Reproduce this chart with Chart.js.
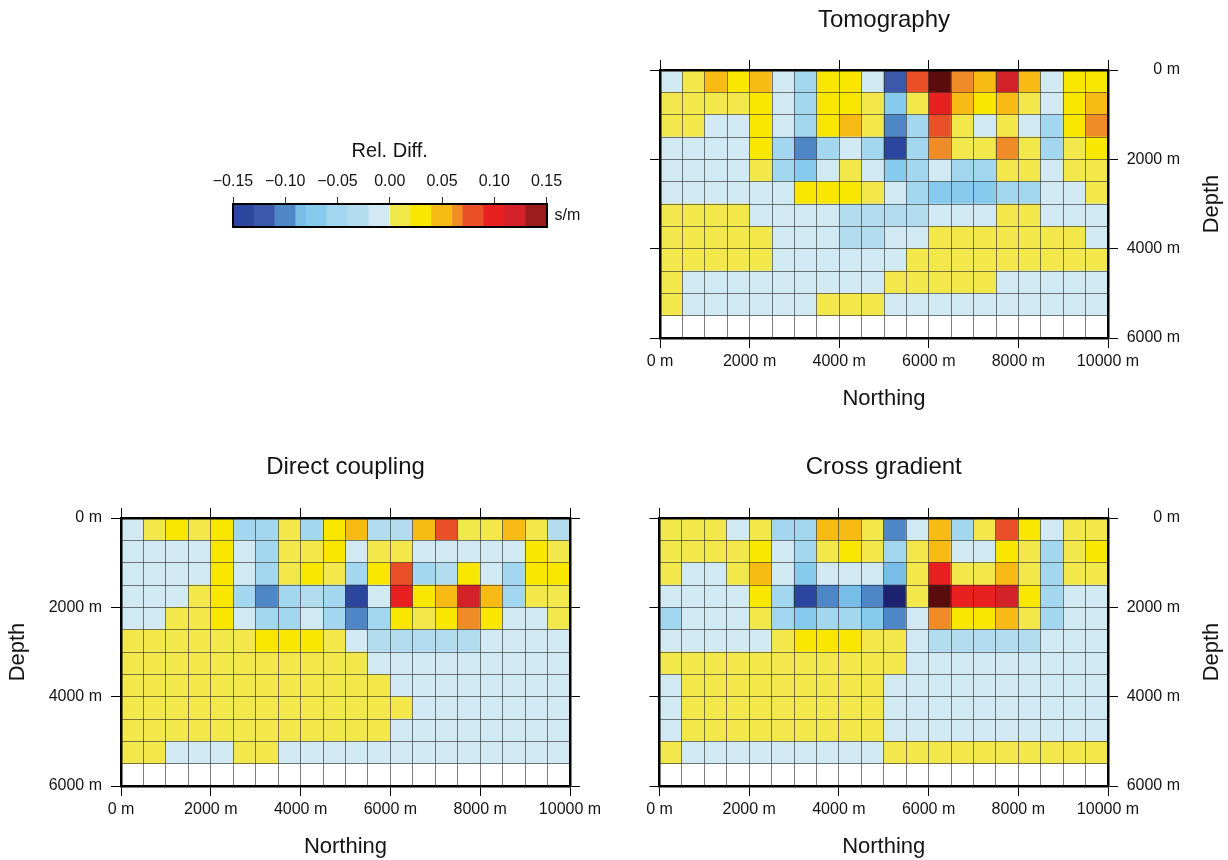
<!DOCTYPE html>
<html><head><meta charset="utf-8">
<script src="https://cdn.jsdelivr.net/npm/chart.js@4.4.1/dist/chart.umd.min.js"></script>
<style>
html,body{margin:0;padding:0;background:#fff;width:1228px;height:860px;overflow:hidden;}
.box{position:absolute;}
</style></head><body>
<div class="box" style="left:150px;top:120px;width:470px;height:130px"><canvas id="cb"></canvas></div>
<div class="box" style="left:600px;top:0px;width:628px;height:420px"><canvas id="tomo"></canvas></div>
<div class="box" style="left:0px;top:430px;width:600px;height:430px"><canvas id="direct"></canvas></div>
<div class="box" style="left:600px;top:430px;width:628px;height:430px"><canvas id="cross"></canvas></div>
<script>
// ---------- data ----------
const northingEdges = [0,500,1000,1500,2000,2500,3000,3500,4000,4500,5000,5500,6000,6500,7000,7500,8000,8500,9000,9500,10000];
const depthEdges = [0,500,1000,1500,2000,2500,3000,3500,4000,4500,5000,5500,6000];
const northingTicks = [0,2000,4000,6000,8000,10000];
const depthTicks = [0,2000,4000,6000];
const cbTicks = [-0.15,-0.10,-0.05,0,0.05,0.10,0.15];
const cbEdges = [-0.15,-0.13,-0.11,-0.09,-0.08,-0.06,-0.04,-0.02,0,0.02,0.04,0.06,0.07,0.09,0.11,0.13,0.15];
const cbColors = ['#2c46a0','#3b58aa','#4f86c6','#78bde8','#86caee','#a3d6ef','#b3dcef','#d0e9f3',
                  '#f2e84c','#f9e700','#f8ba14','#f08c28','#ea5028','#e8201f','#d32129','#9a1c1c'];
const underColor = '#1c2270';
const overColor = '#5c0c0c';

// relative difference (s/m), rows = depth cells from top, cols = northing cells
const tomography = [
 [-0.01,0.01,0.05,0.03,0.05,-0.01,-0.05,0.03,0.03,-0.01,-0.12,0.08,0.16,0.065,0.05,0.12,0.05,-0.01,0.03,0.03],
 [0.01,0.01,0.01,0.01,0.03,-0.01,-0.05,0.03,0.03,0.01,-0.07,0.01,0.10,0.05,0.03,0.05,0.01,-0.01,0.03,0.05],
 [0.01,0.01,-0.01,-0.01,0.03,-0.01,-0.05,0.03,0.05,0.01,-0.10,-0.05,0.08,0.01,-0.01,0.01,-0.01,-0.05,0.03,0.065],
 [-0.01,-0.01,-0.01,-0.01,0.03,-0.05,-0.10,-0.05,-0.01,-0.05,-0.14,-0.05,0.065,0.01,0.01,0.065,0.01,-0.05,0.01,0.03],
 [-0.01,-0.01,-0.01,-0.01,0.01,-0.05,-0.07,-0.01,0.01,-0.01,-0.07,-0.05,-0.01,-0.05,-0.05,0.01,0.01,-0.01,0.01,0.01],
 [-0.01,-0.01,-0.01,-0.01,-0.01,-0.01,0.03,0.03,0.03,0.01,-0.01,-0.05,-0.07,-0.07,-0.07,-0.05,-0.05,-0.01,-0.01,0.01],
 [0.01,0.01,0.01,0.01,-0.01,-0.01,-0.01,-0.01,-0.03,-0.03,-0.03,-0.03,-0.01,-0.01,-0.01,0.01,0.01,-0.01,-0.01,-0.01],
 [0.01,0.01,0.01,0.01,0.01,-0.01,-0.01,-0.01,-0.03,-0.03,-0.01,-0.01,0.01,0.01,0.01,0.01,0.01,0.01,0.01,-0.01],
 [0.01,0.01,0.01,0.01,0.01,-0.01,-0.01,-0.01,-0.01,-0.01,-0.01,0.01,0.01,0.01,0.01,0.01,0.01,0.01,0.01,0.01],
 [0.01,-0.01,-0.01,-0.01,-0.01,-0.01,-0.01,-0.01,-0.01,-0.01,0.01,0.01,0.01,0.01,0.01,-0.01,-0.01,-0.01,-0.01,-0.01],
 [0.01,-0.01,-0.01,-0.01,-0.01,-0.01,-0.01,0.01,0.01,0.01,-0.01,-0.01,-0.01,-0.01,-0.01,-0.01,-0.01,-0.01,-0.01,-0.01]
];
const directCoupling = [
 [-0.01,0.01,0.03,0.01,0.03,-0.05,-0.05,0.01,-0.05,0.03,0.05,-0.03,-0.03,0.05,0.08,0.01,0.01,0.05,0.01,-0.03],
 [-0.01,-0.01,-0.01,-0.01,0.03,-0.01,-0.05,0.01,0.01,0.03,-0.01,0.01,0.01,-0.01,-0.01,-0.01,-0.01,-0.01,0.03,0.01],
 [-0.01,-0.01,-0.01,-0.01,0.03,-0.01,-0.05,0.01,0.03,0.01,-0.05,0.03,0.08,-0.05,-0.03,0.03,-0.01,-0.05,0.03,0.03],
 [-0.01,-0.01,-0.01,0.01,0.03,-0.05,-0.10,-0.05,-0.03,-0.05,-0.14,-0.01,0.10,0.03,0.05,0.12,0.05,-0.05,0.01,0.01],
 [-0.01,-0.01,0.01,0.01,0.03,-0.01,-0.05,-0.05,-0.01,-0.05,-0.10,-0.05,0.03,0.01,0.03,0.065,0.03,-0.01,-0.01,0.01],
 [0.01,0.01,0.01,0.01,0.01,0.01,0.03,0.03,0.03,0.01,-0.01,-0.03,-0.03,-0.03,-0.03,-0.03,-0.01,-0.01,-0.01,-0.01],
 [0.01,0.01,0.01,0.01,0.01,0.01,0.01,0.01,0.01,0.01,0.01,-0.01,-0.01,-0.01,-0.01,-0.01,-0.01,-0.01,-0.01,-0.01],
 [0.01,0.01,0.01,0.01,0.01,0.01,0.01,0.01,0.01,0.01,0.01,0.01,-0.01,-0.01,-0.01,-0.01,-0.01,-0.01,-0.01,-0.01],
 [0.01,0.01,0.01,0.01,0.01,0.01,0.01,0.01,0.01,0.01,0.01,0.01,0.01,-0.01,-0.01,-0.01,-0.01,-0.01,-0.01,-0.01],
 [0.01,0.01,0.01,0.01,0.01,0.01,0.01,0.01,0.01,0.01,0.01,0.01,-0.01,-0.01,-0.01,-0.01,-0.01,-0.01,-0.01,-0.01],
 [0.01,0.01,-0.01,-0.01,-0.01,0.01,0.01,-0.01,-0.01,-0.01,-0.01,-0.01,-0.01,-0.01,-0.01,-0.01,-0.01,-0.01,-0.01,-0.01]
];
const crossGradient = [
 [0.01,0.01,0.01,-0.01,0.01,-0.05,-0.05,0.05,0.05,0.01,-0.10,-0.01,0.05,-0.05,0.01,0.08,0.03,-0.01,0.01,0.01],
 [0.01,0.01,0.01,0.01,0.03,-0.01,-0.05,0.01,0.03,0.01,-0.05,0.01,0.05,-0.01,-0.01,0.03,0.01,-0.05,0.01,0.03],
 [0.01,-0.01,-0.01,0.01,0.05,-0.01,-0.07,-0.01,-0.01,-0.01,-0.085,0.01,0.10,0.01,0.01,0.05,0.01,-0.05,0.01,0.01],
 [-0.01,-0.01,-0.01,-0.01,0.03,-0.05,-0.14,-0.10,-0.085,-0.10,-0.16,0.01,0.16,0.10,0.10,0.12,0.03,-0.05,-0.01,-0.01],
 [-0.05,-0.01,-0.01,-0.01,0.01,-0.05,-0.07,-0.05,-0.05,-0.07,-0.10,-0.01,0.065,0.03,0.03,0.05,0.01,-0.05,-0.01,-0.01],
 [-0.01,-0.01,-0.01,-0.01,-0.01,0.01,0.03,0.03,0.03,0.01,0.01,-0.01,-0.03,-0.03,-0.03,-0.03,-0.03,-0.01,-0.01,-0.01],
 [0.01,0.01,0.01,0.01,0.01,0.01,0.01,0.01,0.01,0.01,0.01,-0.01,-0.01,-0.01,-0.01,-0.01,-0.01,-0.01,-0.01,-0.01],
 [-0.01,0.01,0.01,0.01,0.01,0.01,0.01,0.01,0.01,0.01,-0.01,-0.01,-0.01,-0.01,-0.01,-0.01,-0.01,-0.01,-0.01,-0.01],
 [-0.01,0.01,0.01,0.01,0.01,0.01,0.01,0.01,0.01,0.01,-0.01,-0.01,-0.01,-0.01,-0.01,-0.01,-0.01,-0.01,-0.01,-0.01],
 [-0.01,0.01,0.01,0.01,0.01,0.01,0.01,0.01,0.01,0.01,-0.01,-0.01,-0.01,-0.01,-0.01,-0.01,-0.01,-0.01,-0.01,-0.01],
 [0.01,-0.01,-0.01,-0.01,-0.01,-0.01,-0.01,-0.01,-0.01,-0.01,0.01,0.01,0.01,0.01,0.01,0.01,0.01,0.01,0.01,0.01]
];

// ---------- helpers ----------
const FAMILY = '"Liberation Sans", Arial, Helvetica, sans-serif';
Chart.defaults.font.family = FAMILY;
Chart.defaults.color = '#141414';
const GRIDC = 'rgba(45,45,45,0.62)';
const TXT = '#141414';

function colorFor(v) {
  if (v < cbEdges[0]) return underColor;
  if (v >= cbEdges[cbEdges.length - 1]) return overColor;
  for (let i = 0; i < cbColors.length; i++) if (v < cbEdges[i + 1]) return cbColors[i];
  return overColor;
}
function cellData(grid) {
  const pts = [];
  grid.forEach((row, r) => row.forEach((v, c) => {
    pts.push({x: (northingEdges[c] + northingEdges[c + 1]) / 2, y: [depthEdges[r], depthEdges[r + 1]], v: v});
  }));
  return pts;
}
const majorX = v => northingTicks.includes(v);
const majorY = v => depthTicks.includes(v);
const fmtM = v => v + ' m';
const noPad = s => { s.paddingLeft = 0; s.paddingRight = 0; s.paddingTop = 0; s.paddingBottom = 0; };

const sideTitle = {
  id: 'sideTitle',
  afterDraw(chart, args, opts) {
    if (!opts || !opts.text) return;
    const {ctx, chartArea} = chart;
    ctx.save();
    ctx.font = opts.size + 'px ' + FAMILY;
    ctx.fillStyle = TXT;
    ctx.textAlign = 'center';
    ctx.textBaseline = 'middle';
    ctx.translate(chart.width - opts.fromRight, (chartArea.top + chartArea.bottom) / 2);
    ctx.rotate(-Math.PI / 2);
    ctx.fillText(opts.text, 0, 0);
    ctx.restore();
  }
};

function panel(id, title, grid, side, L) {
  const other = side === 'left' ? 'right' : 'left';
  const tickCol = (fn) => (ctx) => (ctx.tick && fn(ctx.tick.value)) ? '#000' : 'rgba(0,0,0,0)';
  new Chart(document.getElementById(id), {
    type: 'bar',
    data: {datasets: [{
      data: cellData(grid),
      backgroundColor: ctx => ctx.raw ? colorFor(ctx.raw.v) : '#fff',
      borderWidth: 0, barPercentage: 1, categoryPercentage: 1, grouped: false
    }]},
    plugins: [sideTitle],
    options: {
      responsive: true, maintainAspectRatio: false, animation: false, events: [],
      layout: {padding: {left: L.padLeft, right: L.padRight, top: 0, bottom: 0}},
      plugins: {
        legend: {display: false}, tooltip: {enabled: false},
        title: {display: true, text: title, fullSize: false, color: TXT,
                font: {size: 24, weight: 'normal'}, padding: {top: L.titleTop, bottom: L.titleBottom}},
        sideTitle: side === 'right' ? {text: 'Depth', size: 22, fromRight: L.depthFromRight} : false
      },
      scales: {
        x: {type: 'linear', position: 'bottom', min: 0, max: 10000, offset: false,
            afterBuildTicks: s => { s.ticks = northingEdges.map(v => ({value: v})); },
            afterFit: s => { s.height = L.xHeight; noPad(s); },
            grid: {offset: false, color: GRIDC, lineWidth: 1, z: 1, drawTicks: true, tickLength: 10, tickWidth: 1, tickColor: tickCol(majorX)},
            border: {display: true, color: '#000', width: 2.5, z: 2},
            ticks: {autoSkip: false, maxRotation: 0, padding: 4, font: {size: 16}, color: TXT, callback: v => majorX(v) ? fmtM(v) : ''},
            title: {display: true, text: 'Northing', font: {size: 22}, color: TXT, padding: {top: 0, bottom: L.northPad}}},
        xTop: {type: 'linear', position: 'top', min: 0, max: 10000, offset: false,
            afterBuildTicks: s => { s.ticks = northingTicks.map(v => ({value: v})); },
            afterFit: s => { s.height = 12; noPad(s); },
            grid: {offset: false, drawOnChartArea: false, drawTicks: true, tickLength: 10, tickWidth: 1, tickColor: '#000', z: 1},
            border: {display: true, color: '#000', width: 2.5, z: 2},
            ticks: {display: false}},
        y: {type: 'linear', position: side, reverse: true, min: 0, max: 6000,
            afterBuildTicks: s => { s.ticks = depthEdges.map(v => ({value: v})); },
            afterFit: s => { s.width = L.yWidth; noPad(s); },
            grid: {color: GRIDC, lineWidth: 1, z: 1, drawTicks: true, tickLength: 10, tickWidth: 1, tickColor: tickCol(majorY)},
            border: {display: true, color: '#000', width: 2.5, z: 2},
            ticks: {autoSkip: false, padding: L.yPad, font: {size: 16}, color: TXT,
                    crossAlign: side === 'right' ? 'far' : 'near', callback: v => majorY(v) ? fmtM(v) : ''},
            title: side === 'left' ? {display: true, text: 'Depth', font: {size: 22}, color: TXT, padding: {top: 4.8, bottom: 0}} : {display: false}},
        yOther: {type: 'linear', position: other, reverse: true, min: 0, max: 6000,
            afterBuildTicks: s => { s.ticks = depthTicks.map(v => ({value: v})); },
            afterFit: s => { s.width = 12; noPad(s); },
            grid: {drawOnChartArea: false, drawTicks: true, tickLength: 10, tickWidth: 1, tickColor: '#000', z: 1},
            border: {display: true, color: '#000', width: 2.5, z: 2},
            ticks: {display: false}}
      }
    }
  });
}

panel('tomo', 'Tomography', tomography, 'right',
  {padLeft: 48, padRight: 48, titleTop: 5.6, titleBottom: 23.6, xHeight: 82, northPad: 7.8, yWidth: 72, yPad: 8, depthFromRight: 16});
panel('direct', 'Direct coupling', directCoupling, 'left',
  {padLeft: 0, padRight: 18, titleTop: 22.6, titleBottom: 24.6, xHeight: 74, northPad: 0, yWidth: 121, yPad: 9, depthFromRight: 0});
panel('cross', 'Cross gradient', crossGradient, 'right',
  {padLeft: 47.5, padRight: 48, titleTop: 22.6, titleBottom: 24.6, xHeight: 74, northPad: 0, yWidth: 72, yPad: 8, depthFromRight: 16});

// ---------- colour bar ----------
new Chart(document.getElementById('cb'), {
  type: 'bar',
  data: {labels: ['s/m'], datasets: [{
    data: cbColors.map((c, i) => ({y: 's/m', x: [cbEdges[i], cbEdges[i + 1]]})),
    backgroundColor: cbColors, borderWidth: 0, barPercentage: 1, categoryPercentage: 1
  }]},
  options: {
    indexAxis: 'y', responsive: true, maintainAspectRatio: false, animation: false, events: [],
    layout: {padding: {left: 83, right: 0, top: 0, bottom: 23}},
    plugins: {legend: {display: false}, tooltip: {enabled: false}},
    scales: {
      x: {type: 'linear', position: 'top', min: -0.15, max: 0.15,
          afterBuildTicks: s => { s.ticks = cbTicks.map(v => ({value: v})); },
          afterFit: s => { s.height = 84; noPad(s); },
          grid: {drawOnChartArea: false, drawTicks: true, tickLength: 7, tickColor: '#333', tickWidth: 1},
          border: {display: true, color: '#000', width: 2, z: 2},
          ticks: {autoSkip: false, maxRotation: 0, padding: 5.7, font: {size: 16}, color: TXT,
                  callback: v => (v < 0 ? '\u2212' : '') + Math.abs(v).toFixed(2)},
          title: {display: true, text: 'Rel. Diff.', font: {size: 20}, color: TXT, padding: {top: 19.7, bottom: 0}}},
      xb: {type: 'linear', position: 'bottom', min: -0.15, max: 0.15,
          afterFit: s => { s.height = 0; noPad(s); },
          grid: {display: false}, border: {display: true, color: '#000', width: 2, z: 2}, ticks: {display: false}},
      y: {type: 'category', position: 'right',
          afterFit: s => { s.width = 73.5; noPad(s); },
          grid: {drawOnChartArea: false, drawTicks: false},
          border: {display: true, color: '#000', width: 2, z: 2},
          ticks: {padding: 8, font: {size: 16}, color: TXT}},
      yl: {type: 'category', position: 'left',
          afterFit: s => { s.width = 0; noPad(s); },
          grid: {display: false}, border: {display: true, color: '#000', width: 2, z: 2}, ticks: {display: false}}
    }
  }
});
</script></body></html>
